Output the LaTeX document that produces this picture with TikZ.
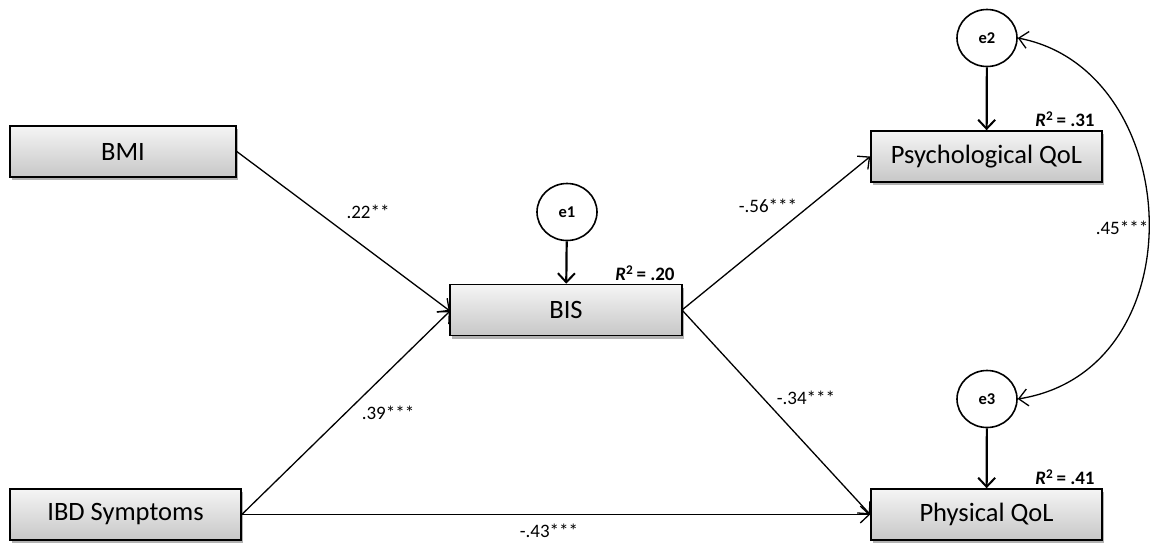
\documentclass[tikz,border=0pt]{standalone}
\usepackage{fontspec}
\setmainfont{Carlito}
\usetikzlibrary{arrows.meta,shapes.geometric,shadows}
\begin{document}
\begin{tikzpicture}[x=1pt,y=-1pt,
  var/.style={draw=black, line width=1.6pt, rectangle, minimum width=231pt, minimum height=51pt,
    top color=white!96!black, bottom color=black!22, inner sep=0pt,
    font=\fontsize{26.5}{30}\selectfont,
    drop shadow={shadow xshift=2pt, shadow yshift=-3pt, opacity=0.3, fill=black}},
  err/.style={draw=black, line width=1.6pt, ellipse, minimum width=60pt, minimum height=57pt,
    fill=white, inner sep=0pt, font=\fontsize{16.5}{18}\selectfont\bfseries},
  lbl/.style={font=\fontsize{19}{22}\selectfont, inner sep=0pt},
  rsq/.style={font=\fontsize{19}{22}\selectfont\bfseries, inner sep=0pt, anchor=south east},
  path/.style={line width=1.3pt, -{Straight Barb[length=9pt,width=17pt,line width=1.3pt]}},
  errarrow/.style={line width=2.2pt, -{Straight Barb[length=9pt,width=17pt,line width=2pt]}},
  cov/.style={line width=1.3pt, {Straight Barb[length=9pt,width=17pt,line width=1.3pt]}-{Straight Barb[length=9pt,width=17pt,line width=1.3pt]}}
]
\useasboundingbox[fill=white] (0,0) rectangle (1154,542);

\node[var, minimum width=226pt] (BMI) at (123,151.5) {BMI};
\node[var] (IBD) at (125.5,514.5) {IBD Symptoms};
\node[var, minimum width=232pt] (BIS) at (566,310) {BIS};
\node[var] (PSY) at (986.5,156.5) {Psychological QoL};
\node[var] (PHY) at (986.5,514.5) {Physical QoL};

\node[err] (e1) at (567,212) {e1};
\node[err] (e2) at (987,38) {e2};
\node[err] (e3) at (987,399) {e3};

\node[rsq, xshift=-8pt, yshift=3pt] (r1) at (BIS.north east) {\textit{R}\textsuperscript{2}\,= .20};
\node[rsq, xshift=-8pt, yshift=3pt] (r2) at (PSY.north east) {\textit{R}\textsuperscript{2}\,= .31};
\node[rsq, xshift=-8pt, yshift=3pt] (r3) at (PHY.north east) {\textit{R}\textsuperscript{2}\,= .41};

\draw[errarrow] (e1) -- (BIS);
\draw[errarrow] (e2) -- (PSY);
\draw[errarrow] (e3) -- (PHY);

\coordinate (bisw) at (450,311);
\coordinate (bise) at (682,310);

\draw[path] (BMI.east) -- (bisw) node[lbl] at (368,212) {.22**};
\draw[path] (IBD.east) -- (bisw) node[lbl] at (388,413) {.39***};
\draw[path] (bise) -- (PSY.west) node[lbl] at (768,206) {-.56***};
\draw[path] (bise) -- (PHY.west) node[lbl] at (806,398) {-.34***};
\draw[path] (IBD.east) -- (PHY.west) node[lbl] at (549,531) {-.43***};

\draw[cov] (e2.east) .. controls (1185,70) and (1200,370) .. (e3.east)
  node[lbl] at (1122,228) {.45***};
\end{tikzpicture}
\end{document}
